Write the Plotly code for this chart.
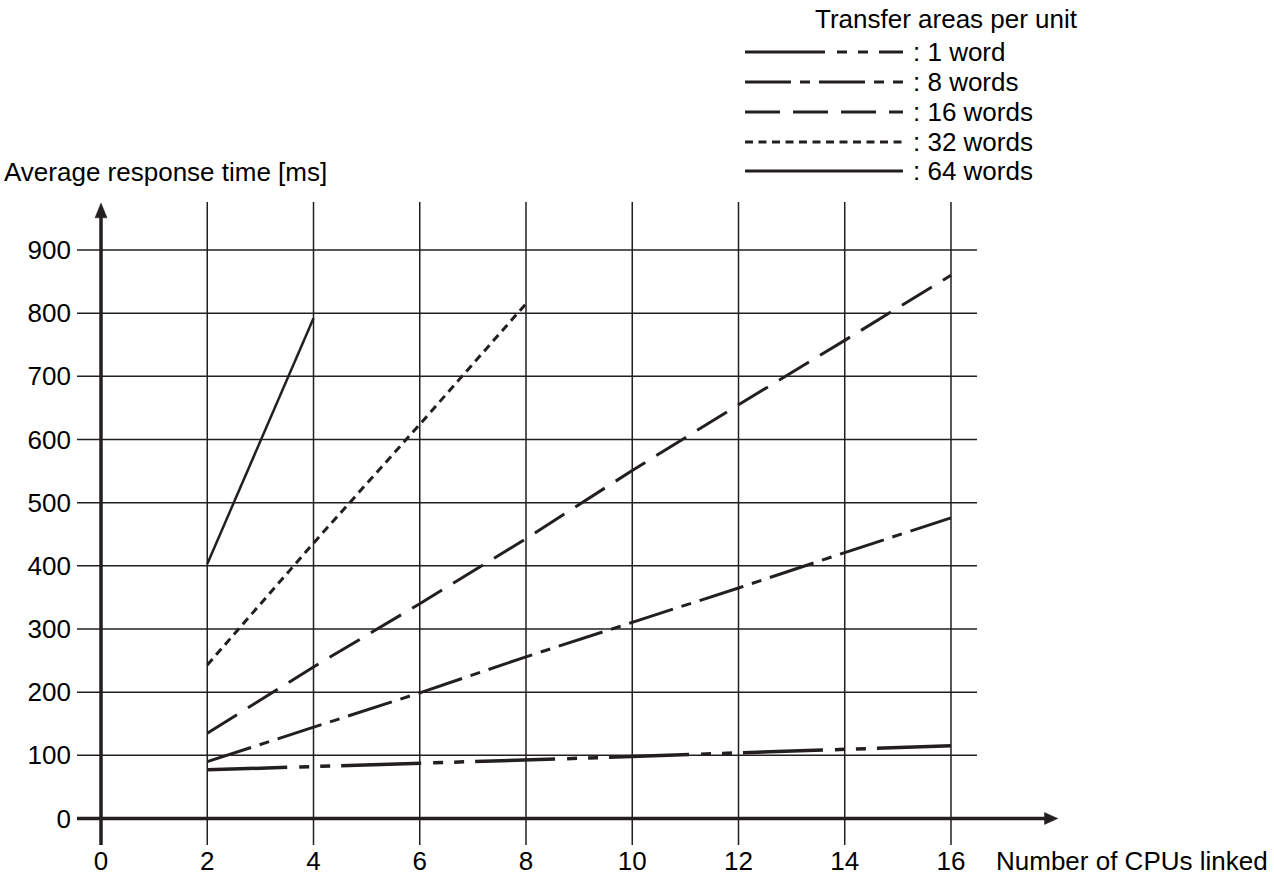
import plotly.graph_objects as go

# datos
cpus = [2, 4, 6, 8, 10, 12, 14, 16]
w1 = [77, 82, 87, 93, 98, 104, 110, 115]
w8 = [90, 145, 199, 256, 310, 365, 421, 476]
w16 = [135, 240, 340, 443, 551, 655, 757, 860]
cpus32 = [2, 4, 6, 8]
w32 = [243, 436, 624, 815]
cpus64 = [2, 4]
w64 = [403, 792]

series_names = [': 1 word', ': 8 words', ': 16 words', ': 32 words', ': 64 words']
x_ticks = [0, 2, 4, 6, 8, 10, 12, 14, 16]
y_ticks = [0, 100, 200, 300, 400, 500, 600, 700, 800, 900]

W, H = 1274, 878
ML, MR, MT, MB = 77, 214, 200, 33
PW, PH = W - ML - MR, H - MT - MB
FONT = '"Liberation Sans", Arial, sans-serif'
INK = '#231f20'

dashes = ['80px,12px,10px,11px,10px,11px', '46px,9px,10px,9px', '35px,13px', '8px,5.5px', 'solid']
widths = [3.5, 3, 3, 3, 2.5]


def px(xp):
    return (xp - ML) / PW


def py(yp):
    return 1 - (yp - MT) / PH


fig = go.Figure()
datos = [(cpus, w1), (cpus, w8), (cpus, w16), (cpus32, w32), (cpus64, w64)]
for (xs, ys), nm, d, lw in zip(datos, series_names, dashes, widths):
    fig.add_trace(go.Scatter(x=xs, y=ys, mode='lines', name=nm,
                             line=dict(color=INK, width=lw, dash=d)))

# cuadricula como shapes
for xi in x_ticks[1:]:
    fig.add_shape(type='line', x0=xi, x1=xi, y0=-42, y1=976,
                  line=dict(color=INK, width=1.5), layer='below')
for yi in y_ticks[1:]:
    fig.add_shape(type='line', x0=-0.452, x1=16.49, y0=yi, y1=yi,
                  line=dict(color=INK, width=1.5), layer='below')

# ejes con flecha
fig.add_shape(type='line', x0=-0.452, x1=17.8, y0=0, y1=0,
              line=dict(color=INK, width=3.5), layer='below')
fig.add_shape(type='line', x0=0, x1=0, y0=-42, y1=955,
              line=dict(color=INK, width=3.5), layer='below')
fig.add_shape(type='path', path='M 18.01 0 L 17.76 9.5 L 17.76 -9.5 Z',
              fillcolor=INK, line=dict(color=INK, width=0.5))
fig.add_shape(type='path', path='M 0 974.5 L 0.113 951 L -0.113 951 Z',
              fillcolor=INK, line=dict(color=INK, width=0.5))

# leyenda dibujada a mano
legend_rows = [52, 82, 112, 142, 171]
for yr, nm, d, lw in zip(legend_rows, series_names, dashes, widths):
    fig.add_shape(type='line', xref='paper', yref='paper',
                  x0=px(745), x1=px(903), y0=py(yr), y1=py(yr),
                  line=dict(color=INK, width=3, dash=d))
    fig.add_annotation(text=nm, xref='paper', yref='paper', x=px(911), y=py(yr),
                       xanchor='left', yanchor='middle', showarrow=False,
                       font=dict(family=FONT, size=26, color='black'))
fig.add_annotation(text='Transfer areas per unit', xref='paper', yref='paper',
                   x=px(813), y=py(19), xanchor='left', yanchor='middle', showarrow=False,
                   font=dict(family=FONT, size=26, color='black'))

fig.add_annotation(text='Average response time [ms]', xref='paper', yref='paper',
                   x=px(2), y=py(172), xanchor='left', yanchor='middle', showarrow=False,
                   font=dict(family=FONT, size=26, color='black'))
fig.add_annotation(text='Number of CPUs linked', xref='paper', yref='paper',
                   x=px(994), y=py(861), xanchor='left', yanchor='middle', showarrow=False,
                   font=dict(family=FONT, size=26, color='black'))

fig.update_layout(
    width=W, height=H,
    margin=dict(l=ML, r=MR, t=MT, b=MB, pad=0),
    plot_bgcolor='white', paper_bgcolor='white',
    showlegend=False,
    font=dict(family=FONT, size=26, color='black'),
    xaxis=dict(range=[-0.452, 18.052], tickvals=x_ticks, showgrid=False, automargin=False,
               zeroline=False, showline=False, ticks='', ticklabelstandoff=-2),
    yaxis=dict(range=[-41.95, 979.2], tickvals=y_ticks, showgrid=False, automargin=False,
               zeroline=False, showline=False, ticks='', ticklabelstandoff=5),
)

fig.write_html('out.html', config={'displayModeBar': False},
               post_script="document.body.style.margin='0';")
